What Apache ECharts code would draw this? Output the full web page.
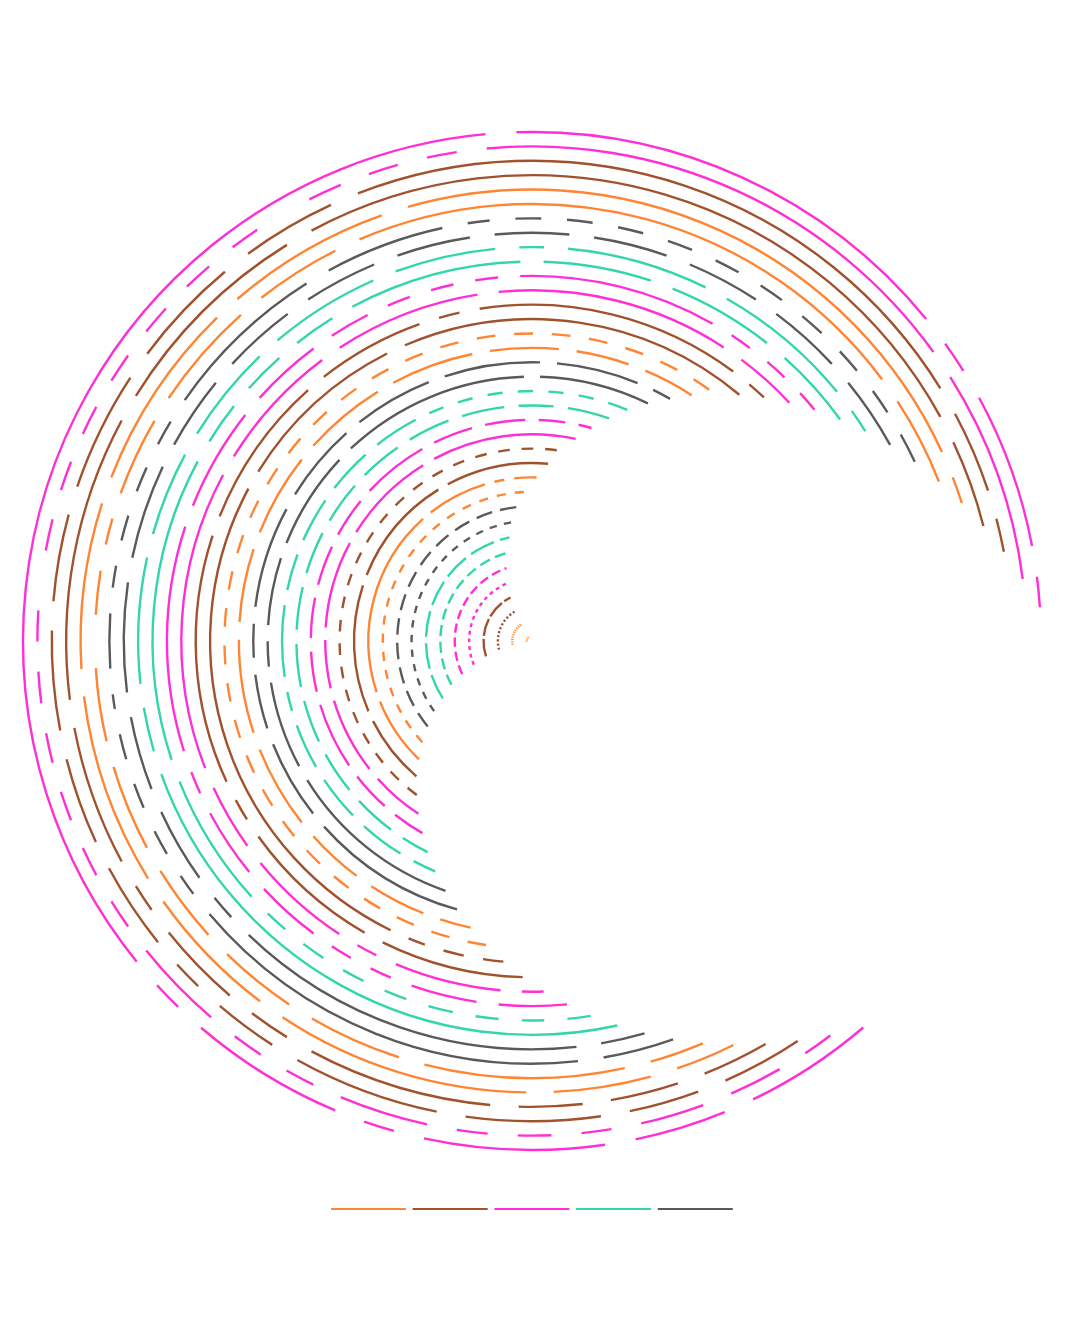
<!DOCTYPE html>
<html>
<head>
<meta charset="utf-8">
<script src="https://cdn.jsdelivr.net/npm/echarts@6/dist/echarts.min.js"></script>
<style>
  html, body { margin: 0; padding: 0; background: #fff; }
  #main { width: 1090px; height: 1318px; }
</style>
</head>
<body>
<div id="main"></div>
<script>
// five series, one colour each
var seriesNames = ['s1', 's2', 's3', 's4', 's5'];
var seriesColors = ['#ff8533', '#a0522d', '#ff2fd6', '#33d6aa', '#5a5a5a'];

// rings from the centre outwards: ring number, owning series, start / end angle (deg, clockwise from top)
var ringLevel = [1, 2, 3, 4, 5, 6, 7, 8, 9, 10, 11, 12, 13, 14, 15, 16, 17, 18,
                 19, 20, 21, 22, 23, 24, 25, 26, 27, 28, 29, 30, 31, 32, 33, 34, 35, 36];
var ringSeries = [0, 0, 1, 1, 2, 2, 3, 3, 4, 4, 0, 0, 1, 1, 2, 2, 3, 3,
                  4, 4, 0, 0, 1, 1, 2, 2, 3, 3, 4, 4, 0, 0, 1, 1, 2, 2];
var ringStart = [262, 258.9, 255.3, 251.5, 247.8, 244.6, 241.5, 237.3, 234.4, 230.7, 227.3, 223.7,
                 220.5, 216.8, 213.3, 209.7, 206.3, 202.8, 199.1, 195.6, 192.1, 188.6, 185.1, 181.6,
                 178.1, 174.5, 171.1, 167.5, 164.0, 160.5, 157.0, 153.5, 149.9, 146.4, 142.9, 139.4];
var ringEnd = [323.2, 326.7, 330.2, 333.7, 337.2, 340.7, 344.2, 347.7, 351.2, 354.7, 358.2, 1.6,
               5.2, 8.7, 12.2, 15.6, 19.1, 22.4, 26.0, 29.7, 33.0, 36.7, 40.1, 43.6,
               47.2, 50.7, 54.3, 57.8, 61.3, 64.9, 68.6, 72.2, 75.7, 79.3, 82.8, 86.2];

// angles (deg) where a ring is broken
var ringGaps = [
  [], [], [], [], [], [], [], [], [], [],
  [], [250, 320, 345, 352], [245, 290, 330], [], [230, 255, 272, 300, 330],
  [220, 234, 255, 269, 283, 297, 311, 332, 346, 360, 10.4],
  [215, 229, 243, 257, 271, 285, 299, 313, 327, 341, 355, 7],
  [210, 224, 238, 252, 260, 280, 292, 306, 320, 334, 341, 348, 355, 2, 9, 16],
  [240, 262.7, 271.7, 290, 315, 0],
  [230, 250, 264.8, 275.3, 300, 320, 340, 3.4, 24],
  [200, 215, 230, 250, 272, 290, 310, 330, 350, 7, 21],
  [],
  [190.5, 197.7, 204.3, 300, 335],
  [208.1, 236.2, 243.5, 290, 320, 342.2, 349.3, 38.5],
  [183.4, 204.6, 211.6, 232.5, 247, 300, 325, 352.8, 34.9],
  [187, 201, 208, 215, 229, 243.6, 250.7, 290, 310, 325, 335, 342.2, 349.3, 356.4, 31.4, 38.4, 45.5],
  [176.4, 183.3, 190.3, 197.6, 204.6, 211.6, 218.8, 225.9, 250, 300, 310, 320, 330, 0, 20, 40],
  [252, 262, 284, 300, 318, 338, 356.4, 3.5, 27.9, 52.5],
  [172, 225.7, 232.8, 247, 261, 280, 297, 311, 325, 339, 353, 7, 21, 35, 49],
  [172, 231.5, 238, 245, 252, 259, 264.5, 275.5, 282, 289, 296, 303, 329.5, 349.5,
   356, 3, 10, 17, 24, 31, 38, 45, 52, 59],
  [166, 196, 212, 226, 240, 255, 268.2, 271.7, 281, 288, 302, 320, 335, 55],
  [163, 179, 215.3, 236.5, 264.7, 289.5, 317.5, 342.3, 67],
  [160, 172, 183.4, 210, 218.7, 233, 240, 261, 300, 330, 63],
  [158, 170, 189.7, 211, 222.3, 229.4, 243.5, 257.5, 273, 287, 305, 322, 337, 60, 73.5],
  [148.2, 158, 169, 176, 183.4, 190.5, 204.5, 211.5, 218.7, 233, 240, 247, 254, 261, 268.2,
   275.3, 278.8, 286, 293, 300, 307, 314, 321, 328, 331.5, 339, 346, 353, 56],
  [156, 170, 194, 201, 222.3, 229.2, 356.5, 52.5, 59.7, 81]
];

// regular dash of the evenly broken rings, in angular cells (style only)
var dashCell = 3.5;
var ringDash = [
  [1, 1], [1, 1], [1, 1], [6, 1], [1, 1], [2, 1], [2, 1], [4, 1], [1, 1], [2, 1],
  [1, 1], [], [], [1, 1], [], [], [], [], [], [], [], [1, 1],
  [], [], [], [], [], [], [], [], [], [], [], [], [], []
];

function ringPieces(i) {
  var s = ringStart[i], e = ringEnd[i];
  if (e <= s) e += 360;
  var gaps = ringGaps[i].map(function (a) { return a < s ? a + 360 : a; })
    .sort(function (a, b) { return a - b; });
  var pieces = [], from = s;
  gaps.forEach(function (c) {
    var to = c - dashCell / 2;
    if (to > from) pieces.push([from, Math.min(to, e)]);
    from = Math.max(from, c + dashCell / 2);
  });
  if (e > from) pieces.push([from, e]);
  return pieces;
}

function renderRing(params, api) {
  var cs = params.coordSys;
  var ring = api.value(0);
  var idx = api.value(3);
  var p0 = api.coord([ring, api.value(1)]);
  var p1 = api.coord([ring, api.value(2)]);
  var dx = p0[0] - cs.cx, dy = p0[1] - cs.cy;
  var r = Math.sqrt(dx * dx + dy * dy);
  var a0 = Math.atan2(dy, dx);
  var a1 = Math.atan2(p1[1] - cs.cy, p1[0] - cs.cx);
  var unit = Math.PI / 180 * r * dashCell;
  var dash = ringDash[idx].map(function (d) { return d * unit; });
  return {
    type: 'arc',
    shape: { cx: cs.cx, cy: cs.cy, r: r, startAngle: a0, endAngle: a1, clockwise: true },
    style: { stroke: api.visual('color'), fill: 'none', lineWidth: 2.4, lineDash: dash.length ? dash : null }
  };
}

var series = seriesNames.map(function (name, s) {
  var data = [];
  for (var i = 0; i < ringLevel.length; i++) {
    if (ringSeries[i] !== s) continue;
    ringPieces(i).forEach(function (p) {
      data.push([ringLevel[i], p[0], p[1], i]);
    });
  }
  return {
    name: name,
    type: 'custom',
    coordinateSystem: 'polar',
    renderItem: renderRing,
    data: data
  };
});

var chart = echarts.init(document.getElementById('main'));
chart.setOption({
  animation: false,
  color: seriesColors,
  polar: { center: [532, 641], radius: 509 },
  radiusAxis: { type: 'value', min: 0.632, max: 36, show: false },
  angleAxis: { type: 'value', min: 0, max: 360, startAngle: 90, clockwise: true, show: false },
  legend: {
    data: seriesNames,
    left: 326,
    top: 1203,
    icon: 'rect',
    itemWidth: 75,
    itemHeight: 2,
    itemGap: 6.7,
    formatter: function () { return ''; }
  },
  series: series
});
</script>
</body>
</html>
